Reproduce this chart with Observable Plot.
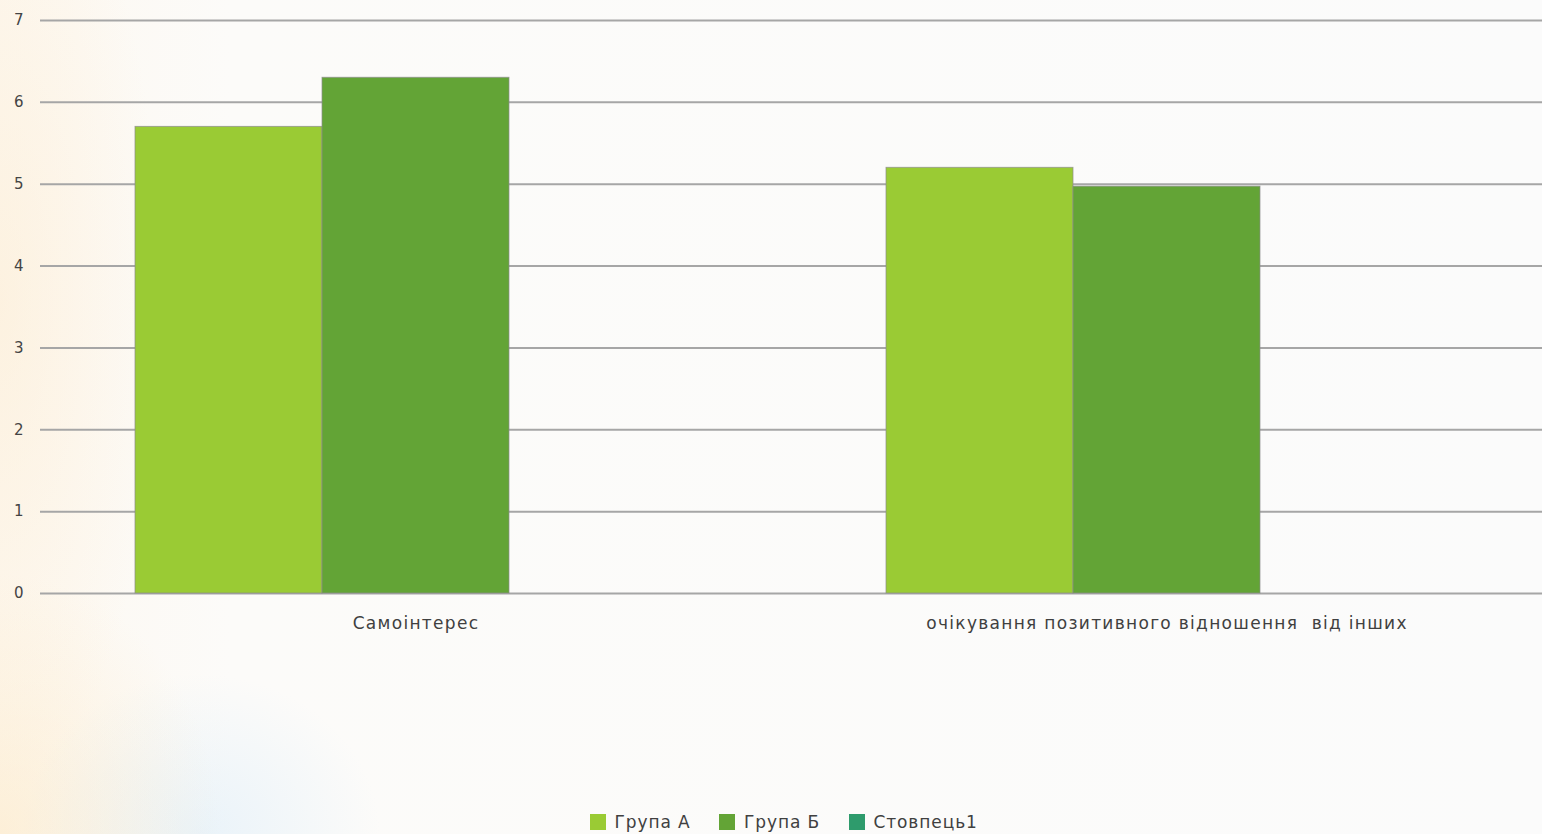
<!DOCTYPE html>
<html>
<head>
<meta charset="utf-8">
<script src="https://cdn.jsdelivr.net/npm/d3@7"></script>
<script src="https://cdn.jsdelivr.net/npm/@observablehq/plot@0.6"></script>
<style>
  html, body { margin: 0; padding: 0; width: 1542px; height: 834px; overflow: hidden; }
  body {
    background:
      radial-gradient(ellipse 220px 260px at 0px 834px, rgba(252,228,186,0.45), rgba(252,228,186,0) 100%),
      radial-gradient(ellipse 180px 160px at 200px 834px, rgba(215,235,250,0.5), rgba(215,235,250,0) 100%),
      radial-gradient(ellipse 160px 500px at 0px 300px, rgba(252,232,200,0.4), rgba(252,232,200,0) 100%),
      linear-gradient(to right, #fdf8f0 0%, #fcfbf9 15%, #fbfbfb 100%);
    font-family: "DejaVu Sans", sans-serif;
    position: relative;
  }
  #chart { position: absolute; left: 0; top: 0; }
  #legend { position: absolute; left: 590px; top: 805px; display: flex; justify-content: flex-start; }
  #legend span, #legend div { letter-spacing: 0.9px; }
</style>
</head>
<body>
<div id="chart"></div>
<div id="legend"></div>
<script>
const categories = ["Самоінтерес", "очікування позитивного відношення  від інших"];
const series = ["Група А", "Група Б", "Стовпець1"];
const grupaA = [5.7, 5.2];
const grupaB = [6.3, 4.97];
const stovpets1 = [null, null];
const yTicks = [0, 1, 2, 3, 4, 5, 6, 7];
const colors = ["#9acb34", "#63a436", "#2e9b6c"];

const values = [grupaA, grupaB, stovpets1];
const data = [];
series.forEach((s, si) => {
  categories.forEach((c, ci) => {
    if (values[si][ci] != null) data.push({category: c, series: s, value: values[si][ci]});
  });
});

const chart = Plot.plot({
  width: 1542,
  height: 650,
  marginLeft: 40,
  marginRight: 0,
  marginTop: 20,
  marginBottom: 57,
  style: {fontFamily: "DejaVu Sans, sans-serif", fontSize: "15px", color: "#404040", background: "transparent", overflow: "visible"},
  fx: {domain: categories, padding: 0, axis: "bottom", label: null, tickSize: 0, tickPadding: 23},
  x: {domain: series, paddingInner: 0, paddingOuter: 0.5, axis: null},
  y: {domain: [0, 7], ticks: yTicks, tickFormat: "d", tickSize: 0, tickPadding: 17, label: null},
  color: {domain: series, range: colors},
  marks: [
    Plot.ruleY(yTicks, {stroke: "#a6a6a6", strokeWidth: 2}),
    Plot.barY(data, {fx: "category", x: "series", y: "value", fill: "series", stroke: "#8c8c8c", strokeWidth: 1, strokeOpacity: 0.7})
  ]
});
chart.querySelectorAll("[aria-label='fx-axis tick label'] text, [aria-label='fx-axis'] text").forEach(t => {
  t.style.letterSpacing = "1.3px";
  t.style.fontSize = "17px";
});
chart.querySelectorAll("[aria-label='y-axis tick label'] text, [aria-label='y-axis'] text").forEach(t => {
  t.style.fontSize = "15px";
  t.setAttribute("fill", "#444");
});
document.getElementById("chart").appendChild(chart);

const legend = Plot.legend({
  color: {domain: series, range: colors},
  swatchSize: 16,
  style: {fontFamily: "DejaVu Sans, sans-serif", fontSize: "17px", color: "#404040", background: "transparent", marginLeft: "0"}
});
legend.style.marginLeft = "0";
legend.querySelectorAll("span").forEach(s => { s.style.marginRight = "1.7em"; });
document.getElementById("legend").appendChild(legend);
</script>
</body>
</html>
